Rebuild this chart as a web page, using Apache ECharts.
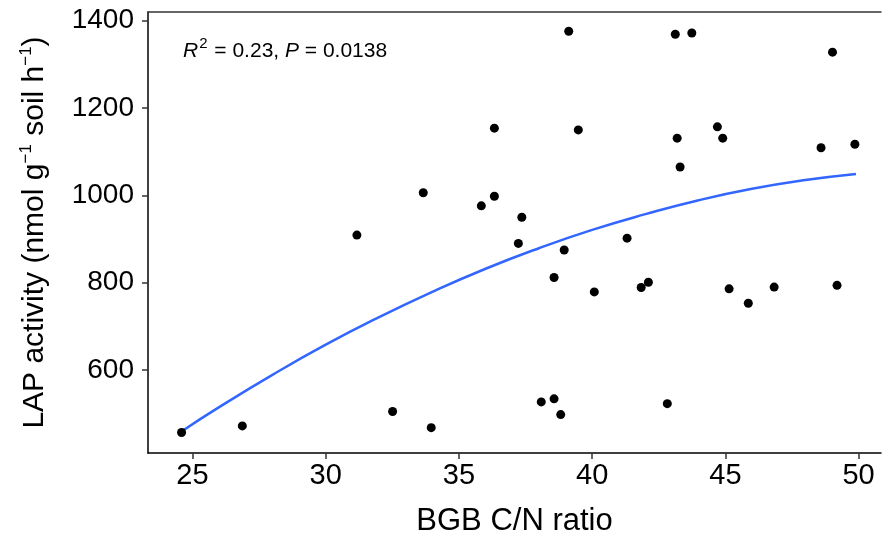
<!DOCTYPE html>
<html>
<head>
<meta charset="utf-8">
<script src="https://cdn.jsdelivr.net/npm/echarts@6/dist/echarts.min.js"></script>
<style>
html,body{margin:0;padding:0;background:#fff;}
#c{width:882px;height:542px;}
</style>
</head>
<body>
<div id="c"></div>
<script>
// BGB C/N ratio (x) and LAP activity (y) of the observations
var cnRatio = [39.12,43.12,43.74,49.02,36.33,39.48,44.70,43.19,44.90,48.59,49.86,43.30,36.33,35.84,37.36,33.66,31.17,24.59,26.87,32.51,33.96,37.23,38.95,41.31,38.57,40.08,41.84,42.11,45.14,45.86,46.83,49.19,38.09,38.57,38.82,42.82];
var lapActivity = [1376,1369,1372,1328,1154,1150,1157,1131,1131,1109,1117,1065,998,976,950,1006,909,457,472,505,468,890,875,902,812,779,789,801,786,753,790,794,527,534,498,523];
// fitted curve
var fitX = [24.6,26,28,30,32,34,36,38,40,42,44,46,48,49.9];
var fitY = [460,515,589,658,721,779,832,879,921,957,989,1015,1035,1049];
// tick labels
var xTicks = [25,30,35,40,45,50];
var yTicks = [600,800,1000,1200,1400];

var pts = cnRatio.map(function(v,i){return [v, lapActivity[i]];});
var fit = fitX.map(function(v,i){return [v, fitY[i]];});
var FONT = 'Liberation Sans, Arial, sans-serif';

var chart = echarts.init(document.getElementById('c'), null, {renderer:'canvas'});
chart.setOption({
  animation:false,
  backgroundColor:'#ffffff',
  grid:{left:148, top:12, right:1, bottom:89, show:false, containLabel:false},
  xAxis:[{
    type:'value', min:23.33, max:50.84,
    name:'BGB C/N ratio', nameLocation:'middle', nameGap:53,
    nameTextStyle:{fontFamily:FONT, fontSize:31, color:'#000'},
    axisLine:{show:true, onZero:false, lineStyle:{color:'#000', width:1.5}},
    axisTick:{show:true, length:6, lineStyle:{color:'#333', width:1.5}, customValues:xTicks},
    axisLabel:{fontFamily:FONT, fontSize:29, color:'#000', margin:8, customValues:xTicks},
    splitLine:{show:false}
  },{
    type:'value', position:'top', min:23.33, max:50.84,
    axisLine:{show:true, onZero:false, lineStyle:{color:'#333', width:1.5}},
    axisTick:{show:false}, axisLabel:{show:false}, splitLine:{show:false}
  }],
  yAxis:{
    type:'value', min:410, max:1420,
    name:'{a|LAP activity (nmol g}{s|−1}{a| soil h}{s|−1}{a|)}', nameLocation:'middle', nameGap:97,
    nameTextStyle:{fontFamily:FONT, fontSize:30, color:'#000',
      rich:{a:{fontFamily:FONT, fontSize:30, color:'#000', lineHeight:33},
            s:{fontFamily:FONT, fontSize:17, color:'#000', lineHeight:33, verticalAlign:'top', padding:[0,0,14,0]}}},
    axisLine:{show:true, onZero:false, lineStyle:{color:'#000', width:1.5}},
    axisTick:{show:true, length:6, lineStyle:{color:'#333', width:1.5}, customValues:yTicks},
    axisLabel:{fontFamily:FONT, fontSize:28, color:'#000', margin:14, customValues:yTicks,
      formatter:function(v){return String(v);}},
    splitLine:{show:false}
  },
  graphic:[{
    type:'text', left:183, top:36,
    style:{
      text:'{i|R}{s|2}{t| = 0.23, }{i|P}{t| = 0.0138}',
      rich:{
        i:{fontFamily:FONT, fontSize:21, fontStyle:'italic', fill:'#000', lineHeight:26, verticalAlign:'bottom'},
        t:{fontFamily:FONT, fontSize:21, fill:'#000', lineHeight:26, verticalAlign:'bottom'},
        s:{fontFamily:FONT, fontSize:15, fill:'#000', lineHeight:26, verticalAlign:'top', padding:[0,1,0,1]}
      }
    }
  }],
  series:[
    {type:'line', data:fit, smooth:true, showSymbol:false, lineStyle:{color:'#3366FF', width:2.5}, z:2},
    {type:'scatter', data:pts, symbol:'circle', symbolSize:9, itemStyle:{color:'#000', opacity:1}, z:3}
  ]
});
</script>
</body>
</html>
